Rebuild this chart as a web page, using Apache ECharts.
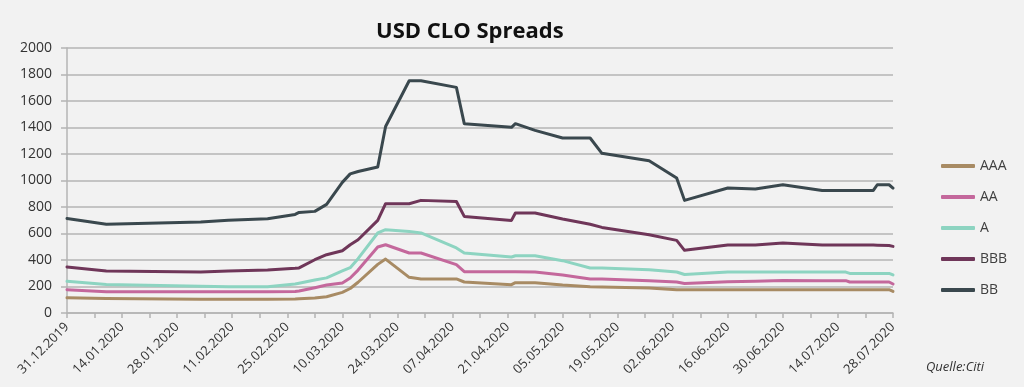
<!DOCTYPE html>
<html>
<head>
<meta charset="utf-8">
<script src="https://cdn.jsdelivr.net/npm/echarts@6/dist/echarts.min.js"></script>
<style>
html,body{margin:0;padding:0;background:#f2f2f2;}
#chart{width:1024px;height:387px;}
</style>
</head>
<body>
<div id="chart"></div>
<script>
const dates = ['31.12.2019','10.01.2020','03.02.2020','10.02.2020','20.02.2020','27.02.2020','28.02.2020','03.03.2020','06.03.2020','10.03.2020','12.03.2020','14.03.2020','19.03.2020','21.03.2020','27.03.2020','30.03.2020','08.04.2020','10.04.2020','22.04.2020','23.04.2020','28.04.2020','05.05.2020','12.05.2020','15.05.2020','27.05.2020','03.06.2020','05.06.2020','16.06.2020','23.06.2020','30.06.2020','10.07.2020','16.07.2020','17.07.2020','23.07.2020','24.07.2020','27.07.2020','28.07.2020'];
const AAA = [115,110,103,103,104,106,107,113,123,156,185,232,367,407,269,257,257,234,214,229,229,211,198,196,189,176,176,176,176,176,176,176,176,176,176,176,163];
const AA  = [176,161,161,161,161,163,166,191,211,226,264,324,498,515,453,453,365,312,312,312,309,287,257,257,244,234,223,236,240,246,244,244,234,234,234,234,219];
const A   = [239,216,202,198,198,219,225,249,265,317,342,410,604,629,616,604,491,453,423,432,432,395,340,340,327,309,291,309,309,309,309,309,299,299,299,299,287];
const BBB = [347,317,310,317,324,337,340,402,440,470,515,553,699,825,825,850,842,729,699,755,755,709,670,646,591,548,473,513,513,528,513,513,513,513,512,510,503];
const BB  = [714,669,686,700,712,744,759,767,820,986,1050,1068,1102,1408,1753,1753,1703,1429,1401,1429,1378,1321,1321,1205,1149,1019,850,943,936,968,925,925,925,925,968,968,943];
const seriesNames = ['AAA','AA','A','BBB','BB'];
const xTickLabels = ['31.12.2019','14.01.2020','28.01.2020','11.02.2020','25.02.2020','10.03.2020','24.03.2020','07.04.2020','21.04.2020','05.05.2020','19.05.2020','02.06.2020','16.06.2020','30.06.2020','14.07.2020','28.07.2020'];
const yTickLabels = ['0','200','400','600','800','1000','1200','1400','1600','1800','2000'];

const colors = ['#a88b64','#c4689c','#8dd4c1','#6f3659','#3a484e'];
function dayOffset(s){
  const p = s.split('.');
  return Math.round((Date.UTC(+p[2], +p[1]-1, +p[0]) - Date.UTC(2019,11,31)) / 86400000);
}
const values = [AAA, AA, A, BBB, BB];
const chart = echarts.init(document.getElementById('chart'), null, {renderer:'canvas'});
const font = '"Open Sans", "Noto Sans", sans-serif';
chart.setOption({
  backgroundColor:'#f2f2f2',
  animation:false,
  title:{text:'USD CLO Spreads', left:371, top:16,
    textStyle:{fontFamily:font, fontWeight:'bold', fontSize:22, color:'#111'}},
  grid:{left:67, right:131, top:48, bottom:74},
  legend:{orient:'vertical', left:936, top:154, itemWidth:34, itemHeight:4, itemGap:17,
    icon:'roundRect',
    data:seriesNames,
    textStyle:{fontFamily:font, fontSize:14, color:'#404040'}},
  xAxis:{type:'value', min:0, max:210, interval:14,
    axisLine:{show:true, lineStyle:{color:'#b4b4b4', width:1.5}},
    axisTick:{show:true, length:5, lineStyle:{color:'#b4b4b4', width:1.5}},
    minorTick:{show:true, splitNumber:2, length:5, lineStyle:{color:'#b4b4b4', width:1.5}},
    splitLine:{show:false},
    axisLabel:{rotate:45, margin:12, fontFamily:font, fontSize:13, color:'#333',
      formatter:v=>xTickLabels[Math.round(v/14)]}},
  yAxis:{type:'value', min:0, max:2000, interval:200,
    axisLine:{show:true, lineStyle:{color:'#b4b4b4', width:1.5}},
    axisTick:{show:true, length:6, lineStyle:{color:'#b4b4b4', width:1.5}},
    splitLine:{show:true, lineStyle:{color:'#b4b4b4', width:1.5}},
    axisLabel:{margin:15, fontFamily:font, fontSize:14, color:'#333',
      formatter:v=>yTickLabels[Math.round(v/200)]}},
  series: seriesNames.map((n,k)=>({
    name:n, type:'line', showSymbol:false, symbol:'none',
    itemStyle:{color:colors[k]},
    lineStyle:{color:colors[k], width:3, join:'round', cap:'round'},
    data: dates.map((d,i)=>[dayOffset(d), values[k][i]])
  })),
  graphic:[{type:'text', left:926, top:361,
    style:{text:'Quelle:Citi', font:'italic 13px "Open Sans", sans-serif', fill:'#333'}}]
});
</script>
</body>
</html>
